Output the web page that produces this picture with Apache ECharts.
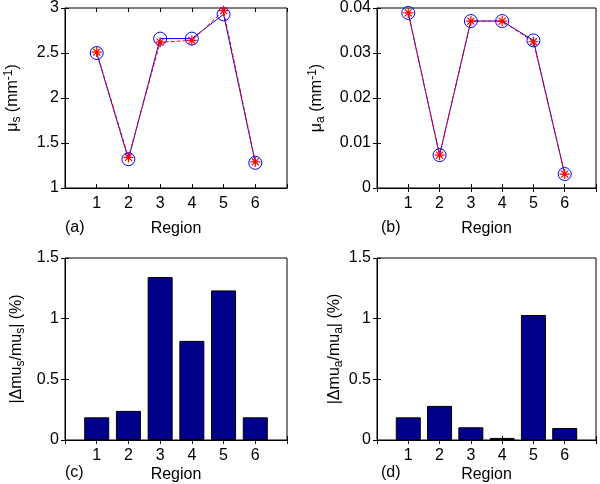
<!DOCTYPE html>
<html><head><meta charset="utf-8">
<script src="https://cdn.jsdelivr.net/npm/echarts@6/dist/echarts.min.js"></script>
<style>html,body{margin:0;padding:0;background:#fff}#c{width:600px;height:484px}</style>
</head><body><div id="c"></div>
<script>
const regions = [1, 2, 3, 4, 5, 6];
const musTrue = [2.50, 1.32, 2.66, 2.66, 2.93, 1.28];
const musRec  = [2.51, 1.34, 2.62, 2.64, 2.97, 1.29];
const muaTrue = [0.0389, 0.0073, 0.0371, 0.0371, 0.0328, 0.0031];
const muaRec  = [0.0389, 0.0073, 0.0371, 0.0371, 0.0325, 0.0031];
const errMus  = [0.187, 0.24, 1.343, 0.817, 1.233, 0.187];
const errMua  = [0.187, 0.281, 0.105, 0.017, 1.03, 0.099];
const xTicks = ['1','2','3','4','5','6'];

const FONT = 'Liberation Sans, Arial, sans-serif';
const grids = [
  {left: 65, top: 6, width: 222, height: 182},
  {left: 377, top: 6, width: 219, height: 182},
  {left: 65, top: 258, width: 222, height: 182},
  {left: 377, top: 258, width: 219, height: 182}
].map(g => Object.assign({show: true, borderColor: '#000', borderWidth: 1, backgroundColor: '#fff'}, g));

const xNameGap = [33, 33, 27, 27];
const yCfg = [
  {min: 1, max: 3, interval: 0.5, name: 'μ{sub|s} (mm{sup|-1})', gap: 44},
  {min: 0, max: 0.04, interval: 0.01, name: 'μ{sub|a} (mm{sup|-1})', gap: 52},
  {min: 0, max: 1.5, interval: 0.5, name: '|Δmu{sub|s}/mu{sub|s}| (%)', gap: 40},
  {min: 0, max: 1.5, interval: 0.5, name: '|Δmu{sub|a}/mu{sub|a}| (%)', gap: 32}
];
const rich = {
  sub: {fontSize: 12, fontFamily: FONT, color: '#000', padding: [0, 0, -8, 0]},
  sup: {fontSize: 12, fontFamily: FONT, color: '#000', padding: [-8, 0, 0, 0]}
};

const xAxis = [], yAxis = [];
grids.forEach((g, i) => {
  xAxis.push({
    type: 'value', gridIndex: i, min: 0, max: 7, interval: 1, position: 'bottom',
    name: 'Region', nameLocation: 'middle', nameGap: xNameGap[i],
    nameTextStyle: {fontSize: 16, fontFamily: FONT, color: '#000'},
    axisLine: {show: true, lineStyle: {color: '#000'}},
    axisTick: {show: true, inside: true, length: 4, lineStyle: {color: '#000'}},
    splitLine: {show: false},
    axisLabel: {fontSize: 16, fontFamily: FONT, color: '#000', margin: 8,
      formatter: v => (v >= 1 && v <= 6) ? xTicks[v - 1] : ''}
  });
  xAxis.push({
    type: 'value', gridIndex: i, min: 0, max: 7, interval: 1, position: 'top',
    axisLine: {show: false}, axisLabel: {show: false}, splitLine: {show: false},
    axisTick: {show: true, inside: true, length: 4, lineStyle: {color: '#000'}}
  });
  const y = yCfg[i];
  yAxis.push({
    type: 'value', gridIndex: i, min: y.min, max: y.max, interval: y.interval, position: 'left',
    name: y.name, nameLocation: 'middle', nameGap: y.gap, nameRotate: 90,
    nameTextStyle: {fontSize: 16, fontFamily: FONT, color: '#000', rich: rich},
    axisLine: {show: true, lineStyle: {color: '#000'}},
    axisTick: {show: true, inside: true, length: 4, lineStyle: {color: '#000'}},
    splitLine: {show: false},
    axisLabel: {fontSize: 16, fontFamily: FONT, color: '#000', margin: 6}
  });
  yAxis.push({
    type: 'value', gridIndex: i, min: y.min, max: y.max, interval: y.interval, position: 'right',
    axisLine: {show: false}, axisLabel: {show: false}, splitLine: {show: false},
    axisTick: {show: true, inside: true, length: 4, lineStyle: {color: '#000'}}
  });
});

const pair = arr => regions.map((r, k) => [r, arr[k]]);
const star = 'path://M0 5 L10 5 M5 0 L5 10 M1.5 1.5 L8.5 8.5 M8.5 1.5 L1.5 8.5';

const series = [];
[[musTrue, musRec, 0], [muaTrue, muaRec, 1]].forEach(([t, r, i]) => {
  series.push({
    type: 'line', xAxisIndex: i * 2, yAxisIndex: i * 2, data: pair(t),
    symbol: 'circle', symbolSize: 13,
    itemStyle: {color: 'rgba(0,0,0,0)', borderColor: '#0000ff', borderWidth: 1},
    lineStyle: {color: '#0000ff', width: 1}, animation: false
  });
  series.push({
    type: 'line', xAxisIndex: i * 2, yAxisIndex: i * 2, data: pair(r),
    symbol: star, symbolSize: 10,
    itemStyle: {color: 'rgba(0,0,0,0)', borderColor: '#ff0000', borderWidth: 1.2},
    lineStyle: {color: '#ff0000', width: 1, type: [4, 2]}, animation: false
  });
});
[[errMus, 2], [errMua, 3]].forEach(([d, i]) => {
  series.push({
    type: 'bar', xAxisIndex: i * 2, yAxisIndex: i * 2, data: pair(d), barWidth: 25,
    itemStyle: {color: '#00008c', borderColor: '#000', borderWidth: 1}, animation: false
  });
});

const panelLabels = [['(a)', 65, 220], ['(b)', 381, 220], ['(c)', 65, 465], ['(d)', 381, 465]];
const graphic = panelLabels.map(([t, x, y]) => ({
  type: 'text', left: x, top: y,
  style: {text: t, fontSize: 16, fontFamily: FONT, fill: '#000'}
}));

const chart = echarts.init(document.getElementById('c'), null, {renderer: 'canvas'});
chart.setOption({animation: false, grid: grids, xAxis, yAxis, series, graphic});
</script></body></html>
